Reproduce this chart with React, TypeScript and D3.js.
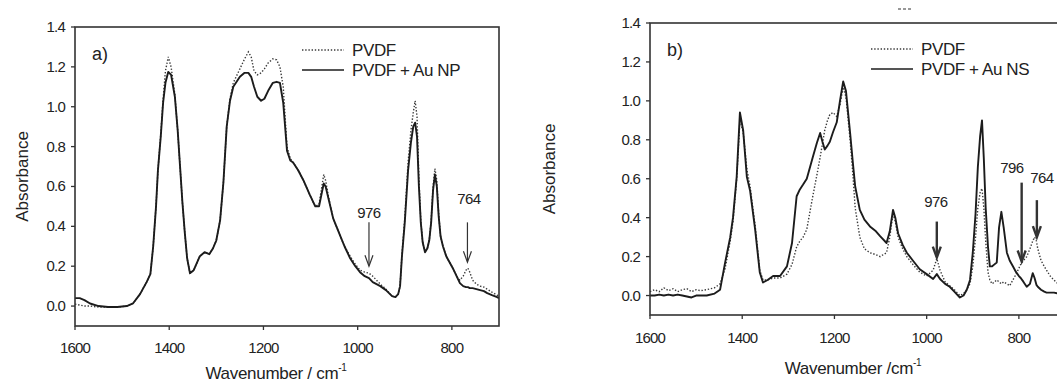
import React from 'react';
import * as d3 from 'd3';

// ---- data ----
const xTicks = [1600, 1400, 1200, 1000, 800];
const yTicks = [0, 0.2, 0.4, 0.6, 0.8, 1.0, 1.2, 1.4];

const waveA = [1600, 1590, 1580, 1568, 1550, 1530, 1510, 1490, 1477, 1462, 1448, 1440, 1434, 1428, 1424, 1418, 1413, 1408, 1402, 1396, 1388, 1382, 1377, 1372, 1367, 1362, 1356, 1348, 1335, 1325, 1315, 1307, 1300, 1292, 1285, 1278, 1271, 1264, 1250, 1240, 1232, 1226, 1220, 1213, 1205, 1198, 1190, 1180, 1172, 1165, 1158, 1150, 1143, 1137, 1126, 1115, 1102, 1090, 1082, 1076, 1072, 1068, 1062, 1052, 1040, 1028, 1016, 1005, 995, 985, 976, 968, 960, 952, 940, 927, 920, 914, 910, 906, 900, 893, 887, 882, 878, 874, 870, 866, 862, 857, 852, 848, 844, 840, 836, 832, 828, 824, 819, 812, 805, 798, 790, 783, 776, 770, 766, 762, 756, 748, 740, 732, 725, 715, 704, 700];
const auNP = [0.04, 0.04, 0.03, 0.013, 0.0, -0.005, -0.005, 0.0, 0.013, 0.06, 0.12, 0.16, 0.3, 0.5, 0.68, 0.85, 1.02, 1.12, 1.175, 1.16, 1.05, 0.88, 0.7, 0.52, 0.37, 0.24, 0.165, 0.18, 0.25, 0.27, 0.26, 0.29, 0.33, 0.43, 0.62, 0.9, 1.03, 1.1, 1.15, 1.17, 1.17, 1.15, 1.1, 1.05, 1.03, 1.04, 1.08, 1.12, 1.125, 1.12, 1.02, 0.78, 0.73, 0.72, 0.68, 0.63, 0.56, 0.5, 0.5, 0.57, 0.615, 0.6, 0.54, 0.44, 0.37, 0.3, 0.24, 0.2, 0.17, 0.15, 0.14, 0.12, 0.11, 0.1, 0.08, 0.05, 0.045, 0.06, 0.1, 0.25, 0.42, 0.68, 0.82, 0.9, 0.92, 0.85, 0.6, 0.42, 0.32, 0.27, 0.29, 0.33, 0.42, 0.58, 0.66, 0.6, 0.45, 0.35, 0.3, 0.25, 0.22, 0.19, 0.15, 0.115, 0.1, 0.095, 0.095, 0.09, 0.09, 0.085, 0.08, 0.075, 0.065, 0.055, 0.045, 0.04];
const pvdfA = [0.01, 0.005, 0.0, 0.0, -0.005, -0.005, -0.005, 0.0, 0.013, 0.06, 0.12, 0.16, 0.3, 0.5, 0.68, 0.86, 1.04, 1.18, 1.25, 1.2, 1.06, 0.88, 0.7, 0.52, 0.37, 0.24, 0.165, 0.18, 0.25, 0.27, 0.26, 0.29, 0.33, 0.43, 0.62, 0.9, 1.04, 1.12, 1.19, 1.24, 1.275, 1.25, 1.18, 1.16, 1.17, 1.19, 1.22, 1.24, 1.235, 1.2, 1.1, 0.8, 0.74, 0.72, 0.68, 0.63, 0.56, 0.5, 0.51, 0.6, 0.66, 0.63, 0.55, 0.44, 0.37, 0.3, 0.25, 0.21, 0.18, 0.17, 0.165, 0.15, 0.13, 0.11, 0.085, 0.05, 0.045, 0.06, 0.1, 0.26, 0.44, 0.72, 0.88, 0.97, 1.03, 0.95, 0.64, 0.43, 0.32, 0.27, 0.29, 0.33, 0.43, 0.6, 0.69, 0.63, 0.46, 0.35, 0.3, 0.25, 0.22, 0.19, 0.15, 0.13, 0.15, 0.18, 0.19, 0.17, 0.13, 0.11, 0.1, 0.095, 0.085, 0.07, 0.055, 0.05];

const waveB = [1600, 1590, 1580, 1570, 1560, 1550, 1540, 1530, 1520, 1510, 1500, 1490, 1477, 1460, 1448, 1437, 1426, 1420, 1412, 1405, 1398, 1390, 1383, 1372, 1362, 1355, 1345, 1333, 1318, 1303, 1292, 1282, 1275, 1268, 1260, 1247, 1238, 1231, 1226, 1221, 1215, 1210, 1203, 1195, 1188, 1181, 1175, 1166, 1160, 1155, 1145, 1135, 1123, 1110, 1101, 1087, 1080, 1073, 1068, 1062, 1052, 1043, 1030, 1015, 1000, 986, 978, 971, 960, 950, 940, 928, 920, 913, 906, 900, 894, 889, 884, 880, 876, 872, 867, 863, 858, 853, 848, 843, 838, 833, 826, 820, 813, 806, 800, 796, 790, 783, 776, 770, 766, 762, 759, 752, 745, 740, 732, 724, 715, 706, 700];
const auNS = [0.0, 0.0, 0.005, 0.0, 0.005, 0.0, 0.005, 0.0, -0.005, -0.01, 0.0, 0.0, 0.0, 0.01, 0.03, 0.17, 0.3, 0.4, 0.61, 0.94, 0.85, 0.61, 0.54, 0.34, 0.12, 0.067, 0.08, 0.1, 0.1, 0.15, 0.27, 0.51, 0.545, 0.57, 0.6, 0.71, 0.785, 0.835, 0.79, 0.75, 0.77, 0.79, 0.84, 0.89, 1.0, 1.1, 1.05, 0.835, 0.68, 0.56, 0.44, 0.39, 0.355, 0.33, 0.305, 0.27, 0.33, 0.44, 0.4, 0.32, 0.26, 0.22, 0.18, 0.135, 0.11, 0.085, 0.11, 0.085, 0.06, 0.045, 0.02, -0.01, 0.0, 0.03, 0.08, 0.22, 0.42, 0.66, 0.82, 0.9, 0.7, 0.45, 0.25, 0.15, 0.15, 0.16, 0.17, 0.35, 0.43, 0.35, 0.22, 0.18, 0.15, 0.12, 0.1, 0.09, 0.07, 0.045, 0.06, 0.115, 0.09, 0.055, 0.045, 0.03, 0.02, 0.015, 0.015, 0.015, 0.01, 0.01, 0.01];
const pvdfB = [0.02, 0.03, 0.02, 0.04, 0.025, 0.035, 0.02, 0.03, 0.035, 0.02, 0.03, 0.025, 0.03, 0.04, 0.06, 0.14, 0.28, 0.38, 0.6, 0.9, 0.84, 0.65, 0.56, 0.36, 0.13, 0.08, 0.08, 0.09, 0.09, 0.11, 0.16, 0.25, 0.28, 0.3, 0.34, 0.51, 0.62, 0.71, 0.78, 0.85, 0.9, 0.93, 0.94, 0.92, 0.98, 1.07, 1.02, 0.8, 0.62, 0.45, 0.3, 0.24, 0.22, 0.21, 0.2, 0.22, 0.3, 0.42, 0.38, 0.3, 0.24, 0.2, 0.16, 0.12, 0.1, 0.13, 0.19, 0.13, 0.07, 0.05, 0.03, 0.0, 0.01, 0.03, 0.06, 0.15, 0.3, 0.45, 0.53, 0.55, 0.45, 0.28, 0.12, 0.08, 0.06, 0.07, 0.08, 0.07, 0.06, 0.07, 0.06, 0.05, 0.08, 0.11, 0.14, 0.16, 0.18, 0.2, 0.24, 0.28, 0.3, 0.28, 0.24, 0.18, 0.15, 0.13, 0.1, 0.08, 0.06, 0.05, 0.04];

// arrow annotations: wavenumber, label, arrow top/bottom (absorbance), label position
const arrowsA = [
  { wn: 976, label: '976', top: 0.42, bottom: 0.2, labelWn: 976, labelY: 0.465 },
  { wn: 767, label: '764', top: 0.42, bottom: 0.22, labelWn: 764, labelY: 0.535 },
];
const arrowsB = [
  { wn: 978, label: '976', top: 0.38, bottom: 0.195, labelWn: 980, labelY: 0.48 },
  { wn: 794, label: '796', top: 0.58, bottom: 0.175, labelWn: 815, labelY: 0.656 },
  { wn: 761, label: '764', top: 0.49, bottom: 0.3, labelWn: 750, labelY: 0.605 },
];

const FONT = "'Liberation Sans', Arial, sans-serif";
const INK = '#222';

interface Box { left: number; right: number; top: number; bottom: number }
interface Arrow { wn: number; label: string; top: number; bottom: number; labelWn: number; labelY: number }

interface PanelProps {
  id: string;
  box: Box;
  waves: number[];
  dotted: number[];
  solid: number[];
  arrows: Arrow[];
  tag: string;
  tagX: number;
  legend: string;
  legendX: number;
  legendY: number;
  yTitleX: number;
  xTitle: string;
  xTitleX: number;
  xTitleY: number;
  xLabelY: number;
  thickArrows?: boolean;
}

const Panel: React.FC<PanelProps> = (p) => {
  const { box } = p;
  const x = d3.scaleLinear().domain([1600, 700]).range([box.left, box.right]);
  const y = d3.scaleLinear().domain([-0.1, 1.4]).range([box.bottom, box.top]);
  const line = d3.line<number>().x((_, i) => x(p.waves[i])).y(d => y(d));
  const midY = (box.top + box.bottom) / 2;

  return (
    <g fontFamily={FONT} fill={INK}>
      <defs>
        <clipPath id={`clip-${p.id}`}>
          <rect x={box.left} y={box.top} width={box.right - box.left} height={box.bottom - box.top} />
        </clipPath>
      </defs>

      {/* Curves */}
      <g clipPath={`url(#clip-${p.id})`}>
        <path d={line(p.dotted) || ''} fill="none" stroke="#3a3a3a" strokeWidth={1.4} strokeDasharray="1.4 1.8" />
        <path d={line(p.solid) || ''} fill="none" stroke="#1c1c1c" strokeWidth={1.9} strokeLinejoin="round" />
      </g>

      {/* Frame */}
      <rect x={box.left} y={box.top} width={box.right - box.left} height={box.bottom - box.top}
        fill="none" stroke="#333" strokeWidth={1.6} />

      {/* Y axis */}
      {yTicks.map(t => (
        <g key={t}>
          <line x1={box.left - 4} x2={box.left} y1={y(t)} y2={y(t)} stroke="#333" strokeWidth={1.3} />
          <text x={box.left - 10} y={y(t) + 5} textAnchor="end" fontSize={15} letterSpacing={-0.8}>
            {t.toFixed(1)}
          </text>
        </g>
      ))}
      <text transform={`translate(${p.yTitleX},${midY}) rotate(-90)`} textAnchor="middle" fontSize={17}>
        Absorbance
      </text>

      {/* X axis */}
      {xTicks.map(t => (
        <g key={t}>
          <line x1={x(t)} x2={x(t)} y1={box.bottom} y2={box.bottom + 4} stroke="#333" strokeWidth={1.3} />
          <text x={x(t)} y={p.xLabelY} textAnchor="middle" fontSize={15} letterSpacing={-0.8}>{t}</text>
        </g>
      ))}
      <text x={p.xTitleX} y={p.xTitleY} textAnchor="middle" fontSize={17} letterSpacing={-0.3}>
        {p.xTitle}<tspan fontSize={10} dy={-8}>-1</tspan>
      </text>

      {/* Panel tag */}
      <text x={p.tagX} y={box.top + 33} fontSize={18}>{p.tag}</text>

      {/* Legend */}
      <line x1={p.legendX} x2={p.legendX + 42} y1={p.legendY} y2={p.legendY}
        stroke="#3a3a3a" strokeWidth={1.4} strokeDasharray="1.4 1.8" />
      <text x={p.legendX + 50} y={p.legendY + 6} fontSize={17} letterSpacing={-0.4}>PVDF</text>
      <line x1={p.legendX} x2={p.legendX + 42} y1={p.legendY + 20} y2={p.legendY + 20}
        stroke="#1c1c1c" strokeWidth={1.6} />
      <text x={p.legendX + 50} y={p.legendY + 26} fontSize={17} letterSpacing={-0.4}>{p.legend}</text>

      {/* Arrows */}
      {p.arrows.map(a => {
        const ax = x(a.wn);
        const y0 = y(a.top);
        const y1 = y(a.bottom);
        const w = p.thickArrows ? 2.4 : 1.2;
        return (
          <g key={a.label}>
            <line x1={ax} x2={ax} y1={y0} y2={y1 - 1} stroke="#333" strokeWidth={w} />
            <path d={`M${ax - 4},${y1 - 11} L${ax},${y1} L${ax + 4},${y1 - 11}`}
              fill="none" stroke="#333" strokeWidth={w} strokeLinejoin="miter" />
            <text x={x(a.labelWn)} y={y(a.labelY) + 5} textAnchor="middle" fontSize={15} letterSpacing={-0.6}>
              {a.label}
            </text>
          </g>
        );
      })}
    </g>
  );
};

const App: React.FC = () => (
  <svg width={1057} height={382} style={{ position: 'absolute', left: 0, top: 0, background: '#fff' }}>
    <rect width={1057} height={382} fill="#fff" />
    <Panel id="a" box={{ left: 75, right: 499, top: 27, bottom: 326 }}
      waves={waveA} dotted={pvdfA} solid={auNP} arrows={arrowsA}
      tag="a)" tagX={92} legend="PVDF + Au NP" legendX={302} legendY={50}
      yTitleX={28} xTitle="Wavenumber / cm" xTitleX={276} xTitleY={379} xLabelY={353} />
    <Panel id="b" box={{ left: 650, right: 1065, top: 23, bottom: 315 }}
      waves={waveB} dotted={pvdfB} solid={auNS} arrows={arrowsB}
      tag="b)" tagX={667} legend="PVDF + Au NS" legendX={871} legendY={49}
      yTitleX={555} xTitle="Wavenumber /cm" xTitleX={853} xTitleY={374} xLabelY={343} thickArrows />
    <line x1={898} x2={912} y1={9} y2={9} stroke="#777" strokeWidth={1.5} strokeDasharray="3 2" />
  </svg>
);

export default App;
